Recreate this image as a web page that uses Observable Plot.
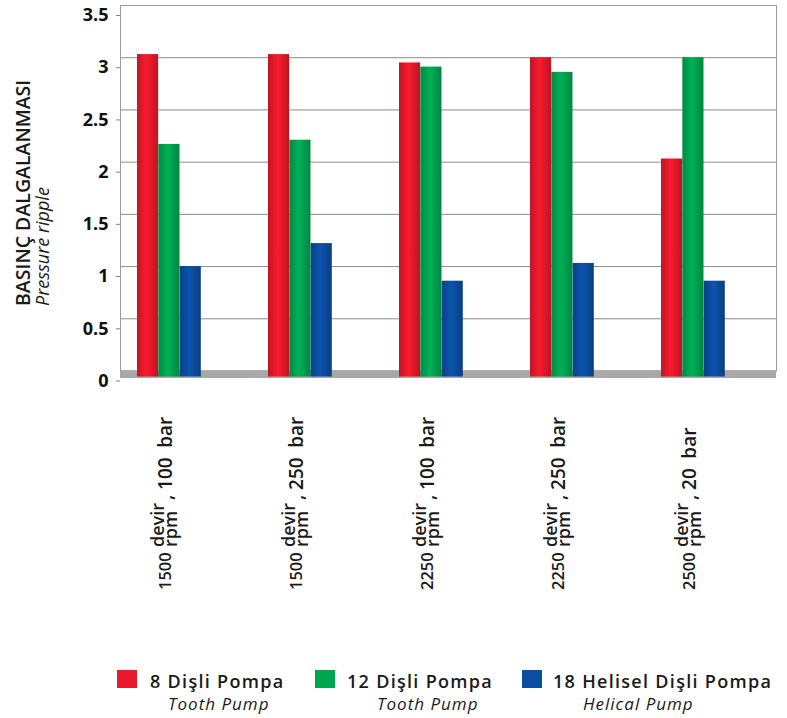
<!DOCTYPE html>
<html><head><meta charset="utf-8">
<script src="https://cdn.jsdelivr.net/npm/d3@7"></script>
<script src="https://cdn.jsdelivr.net/npm/@observablehq/plot@0.6"></script>
<style>
body{margin:0;background:#fff;font-family:"Open Sans",sans-serif;}
#wrap{position:relative;width:787px;height:718px;overflow:hidden;}
#wrap svg.chart{position:absolute;left:0;top:0;}
.sw{position:absolute;width:20px;height:18px;top:670px}
.main{position:absolute;top:672px;font-size:18px;line-height:18px;font-weight:600;letter-spacing:1.3px;color:#1a1a1a;white-space:nowrap}
.sub{position:absolute;top:695px;font-size:17px;line-height:17px;font-style:italic;letter-spacing:1px;color:#1a1a1a;white-space:nowrap}
</style></head>
<body><div id="wrap"></div>
<script>
// ---- data ----
const speeds = ["1500", "1500", "2250", "2250", "2500"];
const pressures = ["100", "250", "100", "250", "20"];
const seriesNames = ["8 Dişli Pompa", "12 Dişli Pompa", "18 Helisel Dişli Pompa"];
const seriesSubs = ["Tooth Pump", "Tooth Pump", "Helical Pump"];
const seriesColors = ["#e8192b", "#00a550", "#0b4ea2"];
const pump8 = [3.03, 3.03, 2.95, 3.0, 2.03];
const pump12 = [2.17, 2.21, 2.91, 2.86, 3.0];
const pump18 = [1.0, 1.22, 0.86, 1.03, 0.86];
const yTicks = [0, 0.5, 1, 1.5, 2, 2.5, 3, 3.5];
const yTitle = "BASINÇ DALGALANMASI";
const ySubTitle = "Pressure ripple";

// ---- build tables ----
const categories = speeds.map((s, i) => `${s} devir/rpm, ${pressures[i]} bar`);
const seriesValues = [pump8, pump12, pump18];
const rows = seriesValues.flatMap((vals, si) => vals.map((v, gi) => ({category: categories[gi], series: seriesNames[si], value: v})));
const labels = categories.map((c, i) => ({category: c, speed: speeds[i], pressure: `, ${pressures[i]}\u2002bar`}));

const wrap = document.getElementById("wrap");

// gradient defs for the cylindrical shading
const gradIds = seriesColors.map((c, i) => `grad${i}`);
const defs = d3.select(wrap).append("svg").attr("width", 0).attr("height", 0).style("position", "absolute").append("defs");
seriesColors.forEach((c, i) => {
  const g = defs.append("linearGradient").attr("id", gradIds[i]).attr("x1", 0).attr("x2", 1).attr("y1", 0).attr("y2", 0);
  g.append("stop").attr("offset", 0).attr("stop-color", d3.color(c).darker(0.5));
  g.append("stop").attr("offset", 0.45).attr("stop-color", d3.color(c).brighter(0.2));
  g.append("stop").attr("offset", 1).attr("stop-color", d3.color(c).darker(0.6));
});

const W = 787, H = 650;
const bandW = (W - 120 - 11) / categories.length;
const barW = 64 / 3, barOff = 16;

const barMarks = seriesNames.map((name, i) => Plot.barY(rows.filter(r => r.series === name), {
  x: "category", y: "value", fill: "series",
  insetLeft: barOff + barW * i,
  insetRight: bandW - barOff - barW * (i + 1),
  insetBottom: -6
}));

const labelStyle = {x: "category", frameAnchor: "bottom", rotate: -90, textAnchor: "start", lineAnchor: "middle",
  dx: -21, fontWeight: 600, fill: "#1a1a1a"};

const chart = Plot.plot({
  width: W, height: H,
  marginLeft: 120, marginRight: 11, marginTop: 5, marginBottom: H - 370.5,
  style: {fontFamily: '"Open Sans", sans-serif', background: "transparent"},
  x: {domain: categories, padding: 0, axis: null},
  y: {domain: [0, 3.5], axis: null},
  color: {domain: seriesNames, range: gradIds.map(id => `url(#${id})`)},
  marks: [
    Plot.gridY(yTicks, {stroke: "#8c8c8c", strokeOpacity: 1}),
    Plot.frame({stroke: "#9a9a9a"}),
    Plot.ruleY([0], {stroke: "#a8a8a8", strokeWidth: 7, dy: 3.5}),
    ...barMarks,
    Plot.axisY({ticks: yTicks, tickFormat: d => String(d), tickSize: 4, tickPadding: 8, label: null,
      fontSize: 18, fontWeight: "bold", stroke: "#808080", fill: "#111", dy: 10}),
    Plot.text(labels, {...labelStyle, text: "speed", fontSize: 16.5, dy: 219}),
    Plot.text(labels, {...labelStyle, text: () => "devir\nrpm", fontSize: 18, lineHeight: 0.72, dy: 176}),
    Plot.text(labels, {...labelStyle, text: "pressure", fontSize: 19, dy: 129}),
    Plot.text([yTitle], {frameAnchor: "bottom-left", rotate: -90, textAnchor: "start", lineAnchor: "middle",
      dx: -97, dy: -65, fontSize: 19.5, fontWeight: 600, fill: "#1a1a1a"}),
    Plot.text([ySubTitle], {frameAnchor: "bottom-left", rotate: -90, textAnchor: "start", lineAnchor: "middle",
      dx: -77, dy: -65, fontSize: 18, fontStyle: "italic", fill: "#1a1a1a"})
  ]
});
chart.classList.add("chart");
wrap.appendChild(chart);

// ---- legend ----
const legendPos = [{sq: 117, main: 150, sub: 168}, {sq: 315, main: 347, sub: 377}, {sq: 522, main: 553, sub: 583}];
seriesNames.forEach((name, i) => {
  const p = legendPos[i];
  d3.select(wrap).append("div").attr("class", "sw").style("left", p.sq + "px").style("background", seriesColors[i]);
  d3.select(wrap).append("div").attr("class", "main").style("left", p.main + "px").text(name);
  d3.select(wrap).append("div").attr("class", "sub").style("left", p.sub + "px").text(seriesSubs[i]);
});
</script>
</body></html>
